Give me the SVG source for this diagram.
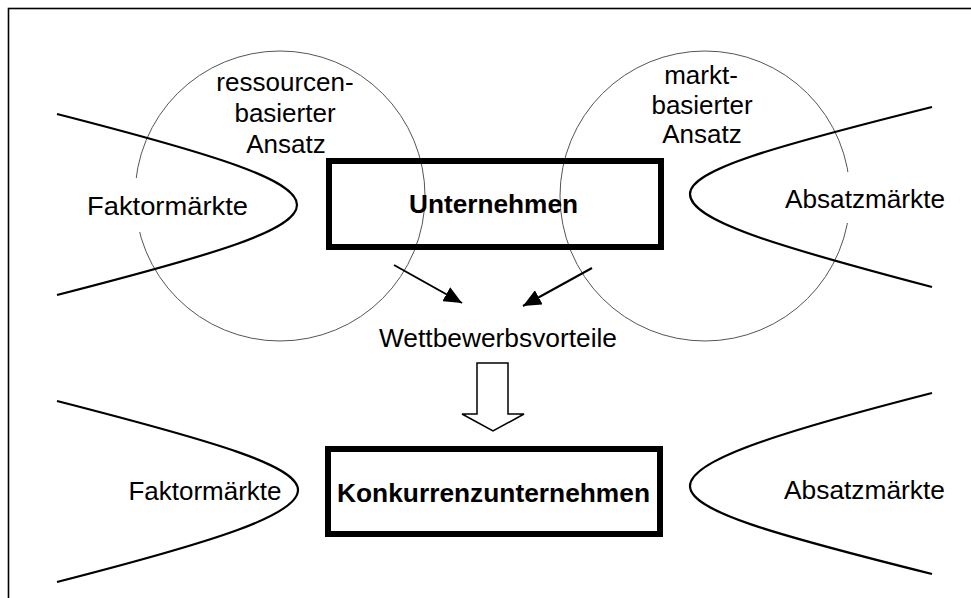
<svg xmlns="http://www.w3.org/2000/svg" width="971" height="598" viewBox="0 0 971 598">
  <style>
    .frame { fill: none; stroke: #000; stroke-width: 1.6; }
    .approach { fill: none; stroke: #555; stroke-width: 1; }
    .market { fill: none; stroke: #000; stroke-width: 2.2; }
    .box { fill: none; stroke: #000; stroke-width: 6; }
    .lbl { font-family: "Liberation Sans", Arial, sans-serif; font-size: 26px; fill: #000; text-anchor: middle; }
    .bold { font-weight: bold; }
    .link { stroke: #000; stroke-width: 2; fill: none; }
    .bg { fill: #fff; }
  </style>
  <defs>
    <marker id="head" markerUnits="userSpaceOnUse" markerWidth="20" markerHeight="16" refX="18" refY="8" orient="auto">
      <path d="M0,0 L18,8 L0,16 z" fill="#000"/>
    </marker>
  </defs>

  <rect width="971" height="598" fill="#fff"/>
  <rect class="frame" x="8.5" y="8.5" width="1000" height="1000"/>

  <!-- approach circles -->
  <g id="resource-approach">
    <ellipse class="approach" cx="280" cy="196" rx="145" ry="145"/>
  </g>
  <g id="market-approach">
    <ellipse class="approach" cx="705" cy="196" rx="145" ry="145"/>
  </g>

  <!-- label backdrops -->
  <rect class="bg" x="80" y="178" width="185" height="54"/>
  <rect class="bg" x="775" y="172" width="180" height="51"/>

  <!-- market curves -->
  <g id="factor-markets-top">
    <path class="market" d="M57,114 C217,155 297,180 297,205 C297,230 217,254 57,295"/>
    <text class="lbl" x="167.5" y="215" textLength="161" lengthAdjust="spacingAndGlyphs">Faktormärkte</text>
  </g>
  <g id="sales-markets-top">
    <path class="market" d="M932,107 C772,147 690,170 690,194 C690,220 772,245 932,287"/>
    <text class="lbl" x="865" y="208" textLength="160" lengthAdjust="spacingAndGlyphs">Absatzmärkte</text>
  </g>
  <g id="factor-markets-bottom">
    <path class="market" d="M57,401 C217,442 298,466 298,490 C298,515 217,541 57,582"/>
    <text class="lbl" x="205" y="500" textLength="153" lengthAdjust="spacingAndGlyphs">Faktormärkte</text>
  </g>
  <g id="sales-markets-bottom">
    <path class="market" d="M932,393 C772,434 690,461 690,486 C690,511 772,534 932,574"/>
    <text class="lbl" x="864.5" y="499" textLength="161" lengthAdjust="spacingAndGlyphs">Absatzmärkte</text>
  </g>

  <!-- approach labels -->
  <g id="resource-label">
    <text class="lbl" x="285" y="91">ressourcen-</text>
    <text class="lbl" x="285" y="122">basierter</text>
    <text class="lbl" x="286" y="153">Ansatz</text>
  </g>
  <g id="market-label">
    <text class="lbl" x="701" y="84">markt-</text>
    <text class="lbl" x="702" y="114">basierter</text>
    <text class="lbl" x="702" y="143">Ansatz</text>
  </g>

  <!-- firm -->
  <g id="firm">
    <rect class="box" x="329" y="161" width="332" height="86"/>
    <text class="lbl bold" x="493.5" y="213" textLength="169" lengthAdjust="spacingAndGlyphs">Unternehmen</text>
  </g>

  <!-- competitive advantage -->
  <g id="advantage">
    <text class="lbl" x="498" y="347" textLength="238" lengthAdjust="spacingAndGlyphs">Wettbewerbsvorteile</text>
  </g>

  <!-- competitor -->
  <g id="competitor">
    <rect class="box" x="328" y="449" width="332" height="85"/>
    <text class="lbl bold" x="493.5" y="502" textLength="313" lengthAdjust="spacingAndGlyphs">Konkurrenzunternehmen</text>
  </g>

  <!-- connectors -->
  <g id="connectors">
    <line class="link" x1="394" y1="265" x2="462" y2="303" marker-end="url(#head)"/>
    <line class="link" x1="592" y1="268" x2="523" y2="306" marker-end="url(#head)"/>
    <path d="M477,363 L508,363 L508,414 L524,414 L493,431 L462,414 L477,414 z" fill="#fff" stroke="#000" stroke-width="1.5" stroke-linejoin="miter"/>
  </g>
</svg>
